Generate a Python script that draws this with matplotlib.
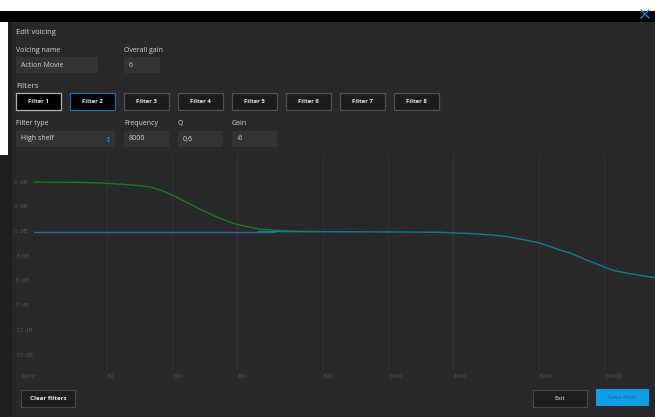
import matplotlib.pyplot as plt
import matplotlib.patches as patches
import matplotlib.transforms as mtransforms

W, H = 655, 417

# ---------------------------------------------
# Daten
# ---------------------------------------------
voicing_name = "Action Movie"
overall_gain = "6"
filter_names = ["Filter 1", "Filter 2", "Filter 3", "Filter 4",
                "Filter 5", "Filter 6", "Filter 7", "Filter 8"]
filter_type = "High shelf"
frequency = "8000"
q_value = "0,6"
gain_value = "-6"

db_ticks = [6, 3, 0, -3, -6, -9, -12, -15]
freq_ticks = [20, 50, 100, 200, 500, 1000, 2000, 5000, 10000]
freq_labels = ["20Hz", "50", "100", "200", "500", "1000", "2000", "5000", "10000"]

# Filter 1: low shelf (gruen)
green_freq = [23, 35, 46, 57, 68, 79, 89, 99, 116, 135, 160, 191, 220, 255, 300, 350, 450]
green_gain = [6.0, 5.97, 5.9, 5.76, 5.6, 5.4, 5.0, 4.5, 3.6, 2.7, 1.8, 1.0, 0.6, 0.3, 0.15, 0.05, 0.0]

# flache Linie (blau)
blue_freq = [23, 300]
blue_gain = [0.0, 0.0]

# Filter 2: high shelf (tuerkis)
teal_freq = [250, 500, 1000, 1741, 2400, 2966, 3500, 4085, 5055, 6253, 6965,
             8200, 9590, 11000, 12500, 14500, 17220]
teal_gain = [0.0, -0.02, -0.05, -0.1, -0.25, -0.4, -0.6, -0.9, -1.4, -2.25, -2.6,
             -3.4, -4.1, -4.7, -5.0, -5.3, -5.6]

BG = "#28282a"
TXT = "#d6d6d6"
BOX = "#333336"
DIM = "#555558"

plt.rcParams["font.family"] = ["Open Sans", "DejaVu Sans"]

fig = plt.figure(figsize=(W / 100, H / 100), dpi=100)
fig.patch.set_facecolor(BG)

# UI-Ebene in Pixelkoordinaten
ui = fig.add_axes([0, 0, 1, 1])
ui.set_xlim(0, W)
ui.set_ylim(H, 0)
ui.axis("off")


def rect(x0, y0, x1, y1, fc, ec="none", lw=0.8):
    ui.add_patch(patches.Rectangle((x0, y0), x1 - x0, y1 - y0,
                                   facecolor=fc, edgecolor=ec, linewidth=lw))


def label(x, y, s, size=5.0, color=TXT, weight="normal", ha="left"):
    ui.text(x, y, s, fontsize=size, color=color, fontweight=weight,
            ha=ha, va="center")


# Rahmen
rect(0, 0, W, 11, "white")
rect(0, 11, W, 22, "black")
rect(0, 22, 8, 155, "white")
rect(8, 22, 12, H, "#1f1f21")
rect(0, 155, 8, H, "#1f1f21")

# Schliessen-X
ui.plot([641, 649], [10, 18], color="#1e88e5", lw=0.9)
ui.plot([641, 649], [18, 10], color="#1e88e5", lw=0.9)

label(16, 32, "Edit voicing", size=5.5)
label(16, 50, "Voicing name", size=5.0)
label(124, 50, "Overall gain", size=5.0)
rect(16, 57, 98, 73, BOX)
label(21, 65, voicing_name, size=5.0)
rect(124, 57, 160, 73, BOX)
label(129, 65, overall_gain, size=5.0)

label(16, 86, "Filters", size=5.8)
for i, name in enumerate(filter_names):
    x0 = 16 + i * 54
    if i == 0:
        fc, ec = "black", "#b0b0b0"
    elif i == 1:
        fc, ec = "black", "#1a6fa8"
    else:
        fc, ec = "#1c1c1e", "#505053"
    rect(x0, 93, x0 + 45, 110, fc, ec, lw=0.9)
    label(x0 + 22.5, 101.5, name, size=4.3, color="#e8e8e8", weight="bold", ha="center")

label(16, 123, "Filter type", size=5.0)
label(124, 123, "Frequency", size=5.0)
label(178, 123, "Q", size=5.0)
label(232, 123, "Gain", size=5.0)
rect(16, 131, 115, 147, BOX)
label(21, 139, filter_type, size=5.0)
ui.plot([108], [136.8], marker="^", ms=2.0, color="#1e88e5", mec="none")
ui.plot([108], [141.2], marker="v", ms=2.0, color="#1e88e5", mec="none")
for x0, val in [(124, frequency), (178, q_value), (232, gain_value)]:
    rect(x0, 131, x0 + 45, 147, BOX)
    label(x0 + 5, 139, val, size=5.0)

# Buttons unten
rect(21, 390, 75, 407, "#1e1e20", "#48484b", lw=0.8)
label(48, 398.5, "Clear filters", size=4.5, color="#e8e8e8", weight="bold", ha="center")
rect(533, 390, 587, 407, "#1e1e20", "#48484b", lw=0.8)
label(560, 398.5, "Exit", size=4.5, color="#e8e8e8", ha="center")
rect(596, 389, 649, 406, "#0ea0e4")
label(622.5, 397.5, "Save filter", size=4.5, color="#1a5f8a", ha="center")

# ---------------------------------------------
# Frequenzgang
# ---------------------------------------------
px_per_db = 8.24
zero_y = 231.5
top_px, bot_px = 155, 370
left_px, right_px = 21, 655
f_right = 20 * 10 ** ((right_px - left_px) / 216)

ax = fig.add_axes([left_px / W, 1 - bot_px / H,
                   (right_px - left_px) / W, (bot_px - top_px) / H])
ax.set_facecolor("none")
ax.set_xscale("log")
ax.set_xlim(20, f_right)
ax.set_ylim(-(bot_px - zero_y) / px_per_db, (zero_y - top_px) / px_per_db)
for s in ax.spines.values():
    s.set_visible(False)
ax.set_xticks([])
ax.set_yticks([])
ax.minorticks_off()

for f in freq_ticks[1:]:
    ax.axvline(f, color="#333336", lw=0.8, zorder=0)

ax.plot(blue_freq, blue_gain, color="#2a6e98", lw=1.0)
ax.plot(green_freq, green_gain, color="#1d7a22", lw=1.0)
ax.plot(teal_freq, teal_gain, color="#117f86", lw=1.0)

ytr = mtransforms.blended_transform_factory(ax.transAxes, ax.transData)
for d in db_ticks:
    ax.text((14 - left_px) / (right_px - left_px), d, f"{d} dB", transform=ytr,
            fontsize=4.5, color=DIM, ha="left", va="center", clip_on=False)

y_lab = -(376 - zero_y) / px_per_db
for f, s in zip(freq_ticks, freq_labels):
    ax.text(f, y_lab, s, fontsize=4.5, color=DIM, ha="left", va="center", clip_on=False)

fig.savefig("out.png", dpi=100, facecolor=fig.get_facecolor())
